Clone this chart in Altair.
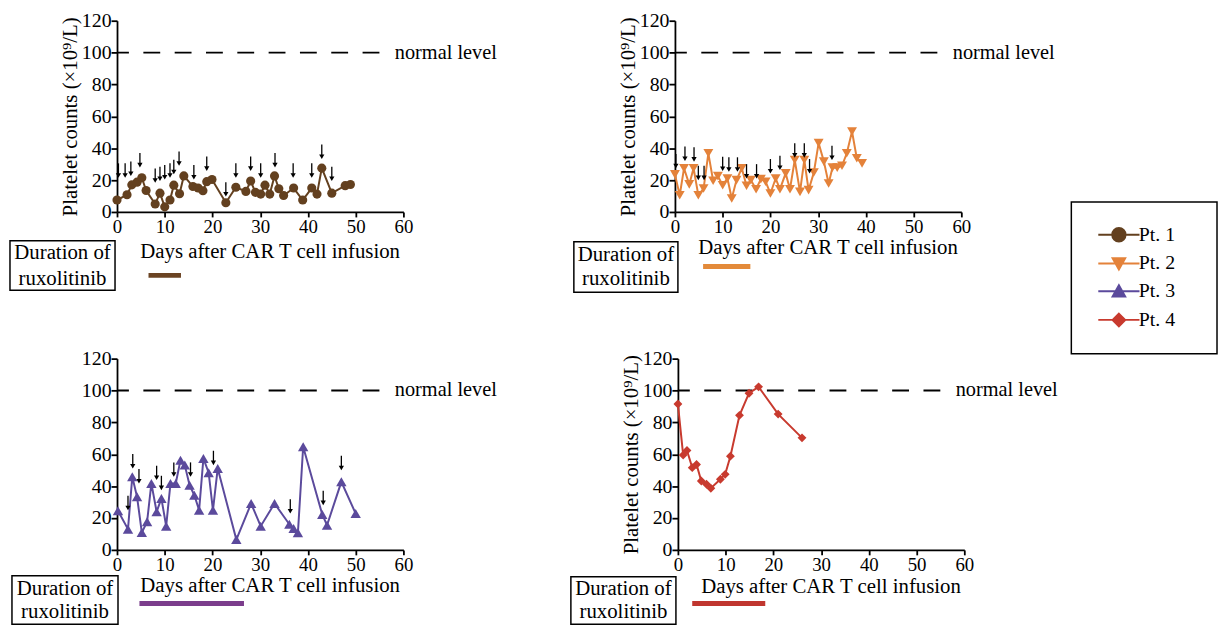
import altair as alt
import pandas as pd

FONT = "Liberation Serif"
PTS = ["Pt. 1", "Pt. 2", "Pt. 3", "Pt. 4"]
COLORS = ["#63401f", "#e4823a", "#5b4a9c", "#c83a2e"]
BAR_COLORS = ["#6b4423", "#e38a3a", "#7b3d8c", "#c0362f"]
LEGEND_PATHS = [
    "M-3.2,0H3.2M1.05,0A1.05,1.05 0 1,1 -1.05,0A1.05,1.05 0 1,1 1.05,0Z",
    "M-3.2,0H3.2M-1,-0.85L1,-0.85L0,0.95Z",
    "M-3.2,0H3.2M-1,0.85L1,0.85L0,-0.95Z",
    "M-3.2,0H3.2M0,-1L1,0L0,1L-1,0Z",
]

X_TICKS = [0, 10, 20, 30, 40, 50, 60]
Y_TICKS = [0, 20, 40, 60, 80, 100, 120]
NORMAL_LEVEL = 100
X_TITLE = "Days after CAR T cell infusion"
Y_TITLE = "Platelet counts (×10⁹/L)"
BOX_LINES = ["Duration of", "ruxolitinib"]

# Pt. 1
P1_DAY = [0, 2.1, 3.1, 4.2, 5.2, 6.1, 8, 9, 10, 11.1, 11.9, 13.1, 14, 15.9, 17, 18,
          18.8, 19.9, 22.8, 24.9, 27, 28, 29, 30.1, 31, 32, 33, 33.9, 34.9, 37, 38.9,
          40.8, 41.9, 42.9, 45, 47.8, 48.9]
P1_VAL = [7.5, 10.8, 17, 18.7, 21.5, 13.5, 5, 11.8, 3.2, 7.5, 16.8, 11.4, 22.6, 16, 15,
          13.3, 19, 20.4, 5.8, 15.5, 12.9, 19.4, 12.3, 11.2, 16.8, 11.2, 22.6, 14.6, 10.3,
          15, 7.5, 15, 11.2, 27.5, 11.8, 16.5, 17.2]
P1_ARROW_DAY = [0.3, 1.7, 2.9, 4.8, 8, 9, 10, 11.1, 11.9, 13, 16.1, 18.8, 22.8, 24.9,
                28, 30.1, 33.1, 36.9, 40.8, 42.9, 45]
P1_ARROW_TIP = [21.5, 21.5, 22.6, 28, 18.3, 19.4, 20.4, 21.5, 23.7, 29, 20.4, 25.8, 9.7,
                21.5, 25.8, 21.5, 28, 21.5, 21.5, 33.3, 19.4]
P1_RUX = [6.6, 13.4]

# Pt. 2
P2_DAY = [0, 1, 1.9, 3, 3.9, 4.9, 6, 7, 8, 9, 10, 11, 11.9, 12.9, 14, 15, 15.9, 17, 18,
          19, 20, 21.1, 22, 23.2, 24.1, 25.1, 26.2, 27.1, 28, 29.1, 30.1, 31.2, 32.2, 33,
          34, 35, 36, 37.1, 38.1, 39.2]
P2_VAL = [23.6, 10.5, 27.4, 17.3, 27.4, 10.5, 14.7, 36.8, 19.6, 22.5, 16.8, 21, 8.4, 20,
          27.4, 16.4, 20, 14.3, 20.6, 19, 11.6, 21, 14.3, 24.2, 14.3, 32.6, 12.6, 32.6,
          13.7, 24.8, 43.2, 31.6, 17.9, 27.8, 27.8, 29, 36.8, 50.5, 33.7, 30.5]
P2_ARROW_DAY = [0.2, 2.1, 4, 4.9, 6.1, 10, 11.3, 13.1, 15, 17.1, 20, 22, 25.1, 27.1, 28.2, 32.9]
P2_ARROW_TIP = [27.4, 32, 31.6, 20, 20, 25.7, 25.3, 25.3, 21, 21, 24.2, 26.3, 34.1, 34.1,
                24.2, 32.6]
P2_RUX = [5.9, 15.8]

# Pt. 3
P3_DAY = [0.2, 2.3, 3.2, 4.2, 5.2, 6.3, 7.2, 8.3, 9.3, 10.3, 11.2, 12.3, 13.3, 14.2, 15.2,
          16.2, 17.2, 18.1, 19.2, 20.1, 21.1, 25, 28.1, 30.1, 33, 36.1, 37, 37.9, 39, 43,
          44, 47, 50]
P3_VAL = [24.5, 13, 45.9, 33.3, 10.9, 17.6, 41.7, 23.9, 32.3, 14.9, 41.7, 41.7, 56.3, 53.2,
          40.6, 34.3, 24.9, 57.4, 48.4, 24.9, 51.1, 6.5, 29.1, 14.9, 29.1, 16.1, 13.4, 10.7,
          64.7, 22.2, 15.5, 42.7, 22.8]
P3_ARROW_DAY = [2.3, 3.3, 4.6, 8.3, 9.3, 11.9, 15.4, 20.2, 36.3, 43.2, 47]
P3_ARROW_TIP = [24.9, 51.1, 41.7, 43.8, 37.5, 45.9, 45.9, 53.2, 22.8, 28.1, 50]
P3_RUX = [4.7, 26.6]

# Pt. 4
P4_DAY = [0, 1.1, 1.9, 3, 3.9, 4.9, 6, 6.9, 8.9, 9.9, 11, 12.9, 14.9, 16.9, 21, 26]
P4_VAL = [91.5, 59.5, 62.4, 51.6, 53.6, 43.2, 41.2, 38.7, 44.3, 47.4, 58.8, 84.4, 98.3,
          102.3, 85.2, 70.3]
P4_ARROW_DAY = []
P4_ARROW_TIP = []
P4_RUX = [3.0, 18.3]

W, H = 289, 193


def panel(i, days, vals, a_days, a_tips, rux, shape, size, ytitle, geo, with_legend=False):
    color = COLORS[i]
    xs = alt.Scale(domain=[0, 60], nice=False, zero=False)
    ys = alt.Scale(domain=[0, 120], nice=False, zero=False)
    xaxis = alt.Axis(values=X_TICKS, title=X_TITLE, titleX=154, titleY=geo["ty"],
                     titleBaseline="middle", titleAlign="center", tickSize=5,
                     labelPadding=1, labelFontSize=19, labelFlush=False,
                     labelOverlap=False, grid=False)
    yargs = dict(values=Y_TICKS, tickSize=6, labelPadding=0, grid=False, labelOverlap=False)
    if ytitle:
        yargs.update(title=Y_TITLE, titleX=-47, titleY=H / 2, titleBaseline="middle",
                     titleAlign="center", titleAngle=270)
    else:
        yargs.update(title=None)
    yaxis = alt.Axis(**yargs)

    def xe(f):
        return alt.X(f, scale=xs, axis=xaxis)

    def ye(f):
        return alt.Y(f, scale=ys, axis=yaxis)

    pts = pd.DataFrame({"day": days, "val": vals})
    layers = []
    nl = pd.DataFrame({"x0": [0], "x1": [55], "lx": [58.2], "level": [NORMAL_LEVEL],
                       "label": ["normal level"]})
    layers.append(alt.Chart(nl).mark_rule(color="black", strokeWidth=1.8,
                                          strokeDash=[17, 14.6], strokeDashOffset=5)
                  .encode(x=xe("x0:Q"), x2="x1:Q", y=ye("level:Q")))
    layers.append(alt.Chart(nl).mark_text(align="left", baseline="middle", font=FONT,
                                          fontSize=20.5, color="black")
                  .encode(x=xe("lx:Q"), y=ye("level:Q"), text="label:N"))
    layers.append(alt.Chart(pts).mark_line(color=color, strokeWidth=2)
                  .encode(x=xe("day:Q"), y=ye("val:Q")))
    layers.append(alt.Chart(pts).mark_point(filled=True, opacity=1, shape=shape, size=size,
                                            color=color)
                  .encode(x=xe("day:Q"), y=ye("val:Q")))
    if a_days:
        ar = pd.DataFrame({"day": a_days, "tip": a_tips})
        layers.append(alt.Chart(ar).transform_calculate(y1="datum.tip + 2", y2="datum.tip + 9")
                      .mark_rule(color="black", strokeWidth=1.3)
                      .encode(x=xe("day:Q"), y=ye("y1:Q"), y2="y2:Q"))
        layers.append(alt.Chart(ar).transform_calculate(yh="datum.tip + 1.4")
                      .mark_point(shape="triangle-down", filled=True, size=28, color="black",
                                  opacity=1)
                      .encode(x=xe("day:Q"), y=ye("yh:Q")))
    rx = pd.DataFrame({"start": [rux[0]], "end": [rux[1]]})
    layers.append(alt.Chart(rx).mark_rule(color=BAR_COLORS[i], strokeWidth=5)
                  .encode(x=xe("start:Q"), x2="end:Q", y=alt.value(geo["bar"])))
    bx = pd.DataFrame({"l1": [BOX_LINES[0]], "l2": [BOX_LINES[1]]})
    layers.append(alt.Chart(bx).mark_rect(fill="white", stroke="black", strokeWidth=1.5)
                  .encode(x=alt.value(geo["bx"][0]), x2=alt.value(geo["bx"][1]),
                          y=alt.value(geo["by"][0]), y2=alt.value(geo["by"][1])))
    cx = (geo["bx"][0] + geo["bx"][1]) / 2
    for k, fld in enumerate(["l1", "l2"]):
        layers.append(alt.Chart(bx).mark_text(font=FONT, fontSize=21, align="center",
                                              baseline="middle", color="black")
                      .encode(x=alt.value(cx), y=alt.value(geo["tl"][k]),
                              text=f"{fld}:N"))
    if with_legend:
        lg = pd.DataFrame({"pt": PTS, "day": [None] * 4, "val": [None] * 4})
        leg = alt.Legend(title=" ", titleOrient="right", titlePadding=19, titleFontSize=9,
                         orient="none", legendX=963, legendY=183,
                         strokeColor="black", padding=23, symbolSize=169,
                         symbolStrokeWidth=1.8, symbolOffset=15, labelOffset=10,
                         labelFont=FONT, labelFontSize=20, labelColor="black",
                         rowPadding=8)
        cs = alt.Scale(domain=PTS, range=COLORS)
        layers.append(alt.Chart(lg).mark_point(filled=True, opacity=1)
                      .encode(x=xe("day:Q"), y=ye("val:Q"),
                              fill=alt.Fill("pt:N", scale=cs, legend=leg),
                              stroke=alt.Stroke("pt:N", scale=cs, legend=leg),
                              shape=alt.Shape("pt:N", scale=alt.Scale(domain=PTS,
                                                                      range=LEGEND_PATHS),
                                              legend=leg)))
    return alt.layer(*layers).properties(width=W, height=H)


g1 = dict(ty=40, bar=257, bx=(-108, -2), by=(222, 272), tl=(234.7, 261))
g2 = dict(ty=36, bar=248, bx=(-102, 3), by=(223, 274), tl=(236, 261))
g3 = dict(ty=36, bar=247, bx=(-106, 1), by=(219, 268), tl=(233, 256))
g4 = dict(ty=36.5, bar=247, bx=(-108, -2), by=(220, 268), tl=(233, 256))

p1 = panel(0, P1_DAY, P1_VAL, P1_ARROW_DAY, P1_ARROW_TIP, P1_RUX, "circle", 85, True, g1,
           with_legend=True)
p2 = panel(1, P2_DAY, P2_VAL, P2_ARROW_DAY, P2_ARROW_TIP, P2_RUX, "triangle-down", 100, True, g2)
p3 = panel(2, P3_DAY, P3_VAL, P3_ARROW_DAY, P3_ARROW_TIP, P3_RUX, "triangle-up", 110, False, g3)
p4 = panel(3, P4_DAY, P4_VAL, P4_ARROW_DAY, P4_ARROW_TIP, P4_RUX, "diamond", 80, True, g4)

row1 = alt.hconcat(p1, p2, spacing=76)
row2 = alt.hconcat(p3, p4, spacing=73)
chart = (
    alt.vconcat(row1, row2, spacing=56)
    .properties(padding={"left": 1, "top": 0, "right": 0, "bottom": 0})
    .configure_view(stroke=None)
    .configure_axis(labelFont=FONT, labelFontSize=20, labelColor="black",
                    titleFont=FONT, titleFontSize=21, titleFontWeight="normal",
                    titleColor="black", domainColor="black", tickColor="black",
                    domainWidth=1.8, tickWidth=1.8)
    .configure_legend(strokeWidth=1.5)
)
chart.save("out.html", embed_options={"renderer": "svg", "actions": False})
